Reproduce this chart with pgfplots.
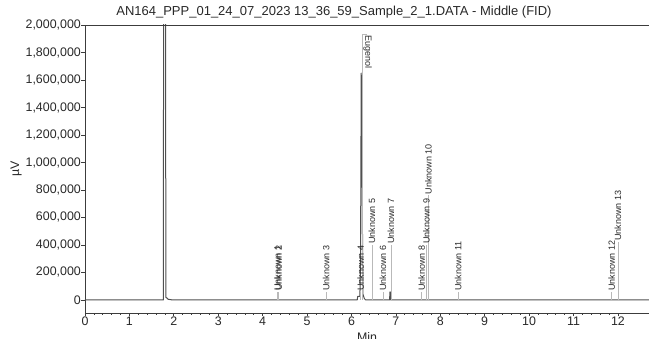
\documentclass[border=0pt]{standalone}
\usepackage{fontspec}
\setmainfont{Liberation Sans}
\usepackage{pgfplots}
\pgfplotsset{compat=1.18}
\definecolor{trace}{RGB}{80,80,80}
\definecolor{axcol}{RGB}{60,60,60}
\definecolor{lbl}{RGB}{185,185,185}
\definecolor{txt}{RGB}{40,40,40}
\begin{document}
\begin{tikzpicture}
\begin{axis}[
 scale only axis, width=564pt, height=288pt,
 at={(0,0)}, anchor=south west,
 xmin=0, xmax=12.7, ymin=-95000, ymax=2000000,
 axis x line*=bottom, axis y line*=left,
 axis line style={axcol, line width=0.9pt},
 tick align=outside,
 xtick={0,...,12}, minor x tick num=4,
 ytick={0,200000,...,2000000},
 major tick length=3.5pt, minor tick length=2pt,
 tick style={axcol, line width=0.7pt},
 scaled y ticks=false,
 /pgf/number format/fixed,
 /pgf/number format/1000 sep={,},
 /pgf/number format/assume math mode=true,
 ticklabel style={font=\fontsize{12.4}{14}\selectfont, text=txt},
 yticklabel style={inner sep=0.5pt},
 xticklabel style={inner sep=0pt, yshift=-0.5pt},
 title={AN164\_PPP\_01\_24\_07\_2023 13\_36\_59\_Sample\_2\_1.DATA - Middle (FID)},
 title style={at={(axis description cs:0.4415,1)}, anchor=base, yshift=3pt, font=\fontsize{13}{15}\selectfont, text=txt, inner sep=0pt},
 xlabel={Min},
 xlabel style={at={(axis description cs:0.5,-0.066)}, anchor=north, inner sep=0pt, font=\fontsize{12.4}{14}\selectfont, text=txt},
 ylabel={µV},
 ylabel style={at={(axis description cs:-0.1223,0.5)}, anchor=center, inner sep=0pt, font=\fontsize{12.4}{14}\selectfont, text=txt},
]
\addplot[trace, line width=1pt, line join=round] coordinates {
(0,0) (1.765,0) (1.77,2600000) (1.815,2600000) (1.82,20000) (1.84,15000) (1.87,5000) (1.95,1000) (2.1,0)
(6.13,0) (6.14,25000) (6.19,25000) (6.205,300000) (6.22,1650000) (6.235,1300000) (6.25,400000) (6.26,40000) (6.29,10000) (6.32,0)
(6.86,0) (6.865,58000) (6.875,58000) (6.88,0) (12.7,0)
};
\addplot[ycomb, lbl, line width=0.6pt, nodes near coords, point meta=explicit symbolic,
 every node near coord/.append style={rotate=90, anchor=west, inner sep=1pt, font=\fontsize{9}{10}\selectfont, text=txt}]
 table[col sep=comma, meta=label]{
x,y,label
4.33,58000,Unknown 1
4.36,58000,Unknown 2
5.43,58000,Unknown 3
6.21,58000,Unknown 4
6.46,400000,Unknown 5
6.71,58000,Unknown 6
6.89,400000,Unknown 7
7.58,58000,Unknown 8
7.69,400000,Unknown 9
7.73,760000,Unknown 10
8.40,58000,Unknown 11
11.86,58000,Unknown 12
12.00,420000,Unknown 13
};
\addplot[ycomb, lbl, line width=0.6pt, nodes near coords, point meta=explicit symbolic,
 every node near coord/.append style={rotate=-90, anchor=south west, inner sep=1pt, font=\fontsize{9}{10}\selectfont, text=txt}]
 table[col sep=comma, meta=label]{
x,y,label
6.24,1930000,Eugenol
};
\draw[lbl, line width=0.6pt] (axis cs:6.24,1930000) -- (axis cs:6.35,1930000);
\draw[axcol, line width=0.9pt] (rel axis cs:0,1) -- (rel axis cs:1,1);
\end{axis}
\pgfresetboundingbox
\path[use as bounding box] (-85pt,-26pt) rectangle (564pt,313pt);
\end{tikzpicture}
\end{document}
